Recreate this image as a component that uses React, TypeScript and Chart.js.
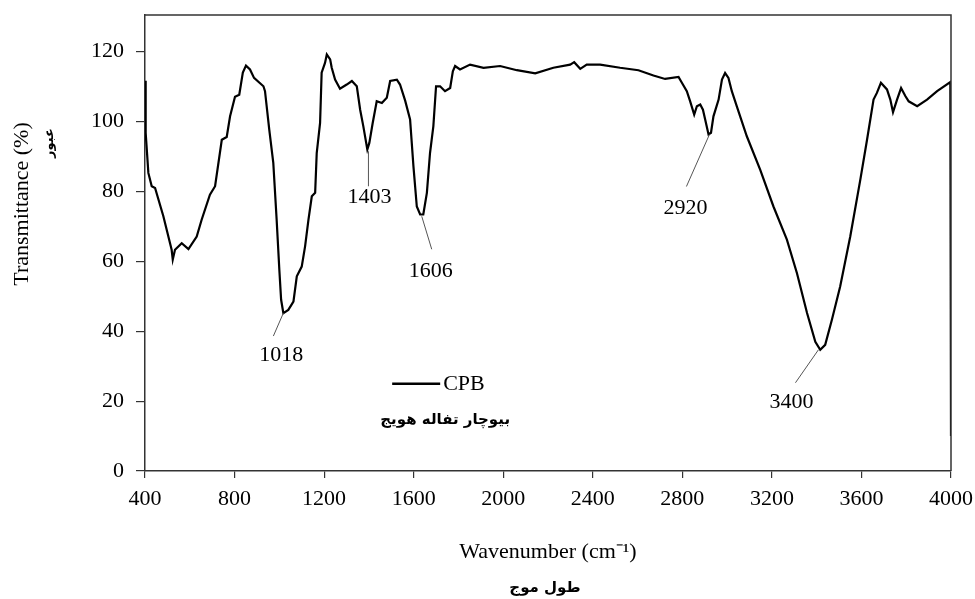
import React, { useEffect, useRef } from "react";
import { Chart, registerables } from "chart.js";

Chart.register(...registerables);

// ---- Data ----
const wavenumber = [
  400, 403, 415, 430, 445, 482, 519, 524, 534, 564, 594, 631, 653, 690, 713, 743, 765, 780, 802, 821,
  837, 851, 869, 887, 929, 936, 955, 973, 988, 1000, 1008, 1018, 1040, 1063, 1078, 1100, 1115, 1130, 1145, 1160,
  1167, 1182, 1189, 1204, 1212, 1227, 1234, 1249, 1271, 1301, 1324, 1346, 1361, 1375, 1393, 1402, 1417, 1435, 1458, 1480,
  1495, 1525, 1539, 1562, 1584, 1599, 1614, 1629, 1643, 1659, 1673, 1688, 1700, 1718, 1740, 1763, 1775, 1785, 1807, 1852,
  1912, 1986, 2061, 2143, 2224, 2299, 2317, 2344, 2373, 2433, 2522, 2604, 2671, 2723, 2783, 2798, 2820, 2835, 2853, 2865,
  2880, 2892, 2902, 2917, 2928, 2939, 2962, 2977, 2991, 3006, 3021, 3043, 3088, 3148, 3207, 3267, 3312, 3357, 3394, 3416,
  3438, 3468, 3505, 3550, 3595, 3625, 3654, 3669, 3687, 3714, 3729, 3741, 3759, 3777, 3796, 3811, 3849, 3893, 3938, 3997,
  4000,
];
const transmittance = [
  111.7, 96.8, 85.3, 81.5, 81.0, 72.9, 63.3, 60.5, 63.3, 65.2, 63.5, 67.1, 71.9, 79.1, 81.5, 94.8, 95.6, 101.5, 107.1, 107.7,
  114.0, 116.0, 114.9, 112.5, 110.1, 108.7, 97.7, 88.2, 71.9, 57.6, 49.0, 45.2, 46.1, 48.5, 55.7, 58.5, 64.3, 71.9, 78.6, 79.6,
  91.0, 99.6, 114.0, 116.8, 119.2, 117.8, 115.4, 112.0, 109.4, 110.6, 111.6, 110.1, 103.4, 98.7, 92.0, 93.9, 99.6, 105.8, 105.3, 106.8,
  111.6, 112.0, 110.6, 106.0, 100.6, 87.2, 75.7, 73.4, 73.4, 79.6, 91.0, 98.7, 110.1, 110.1, 108.7, 109.6, 114.4, 115.9, 114.9, 116.3,
  115.4, 115.9, 114.7, 113.8, 115.4, 116.3, 117.0, 115.1, 116.3, 116.3, 115.4, 114.7, 113.2, 112.2, 112.8, 111.1, 108.7, 105.8, 102.0, 104.4,
  104.9, 103.4, 100.6, 96.3, 96.8, 101.5, 106.3, 112.0, 113.9, 112.5, 108.7, 104.4, 95.8, 86.2, 75.7, 66.2, 56.6, 45.2, 37.0, 34.7,
  36.1, 43.3, 52.8, 67.1, 83.4, 94.8, 106.3, 108.2, 111.1, 109.2, 106.3, 102.7, 106.3, 109.6, 107.3, 105.8, 104.4, 106.3, 108.7, 111.3,
  10.0,
];
const xTickValues = [400, 800, 1200, 1600, 2000, 2400, 2800, 3200, 3600, 4000];
const yTickValues = [0, 20, 40, 60, 80, 100, 120];
const seriesLabel = "CPB";
const seriesLabelFa = "بیوچار تفاله هویج";
const xTitle = "Wavenumber (cm⁻¹)";
const xTitleFa = "طول موج";
const yTitle = "Transmittance (%)";
const yTitleFa = "عبور";

// peak annotations
const peakText = ["1018", "1403", "1606", "2920", "3400"];
const peakX = [1018, 1398, 1636, 2921, 3408];
const peakY = [45.2, 91.5, 72.9, 96.3, 34.7];

// annotation leader offsets (px): line end and text centre relative to the peak point
const annotationOffsets = [
  { lx: -10, ly: 23, tx: -2, ty: 42 },
  { lx: 0, ly: 35, tx: 1, ty: 46 },
  { lx: 10, ly: 33, tx: 9, ty: 55 },
  { lx: -23, ly: 52, tx: -24, ty: 74 },
  { lx: -23, ly: 33, tx: -27, ty: 52 },
];

// legend anchor (in data units)
const legendAt = { x: 1504, y: 25 };

const SERIF = "'Liberation Serif', 'Times New Roman', serif";
const ARABIC = "'DejaVu Sans', sans-serif";

const decorPlugin = {
  id: "decor",
  afterDraw(chart: any) {
    const { ctx, chartArea, scales } = chart;
    const xs = scales.x;
    const ys = scales.y;
    ctx.save();
    // frame (top & right)
    ctx.strokeStyle = "#333";
    ctx.lineWidth = 1.5;
    ctx.beginPath();
    ctx.moveTo(chartArea.left, chartArea.top);
    ctx.lineTo(chartArea.right, chartArea.top);
    ctx.lineTo(chartArea.right, chartArea.bottom);
    ctx.stroke();

    // peak annotations
    ctx.font = `22px ${SERIF}`;
    ctx.textAlign = "center";
    ctx.textBaseline = "middle";
    peakText.forEach((t, i) => {
      const px = xs.getPixelForValue(peakX[i]);
      const py = ys.getPixelForValue(peakY[i]);
      const o = annotationOffsets[i];
      ctx.strokeStyle = "#555";
      ctx.lineWidth = 1;
      ctx.beginPath();
      ctx.moveTo(px, py);
      ctx.lineTo(px + o.lx, py + o.ly);
      ctx.stroke();
      ctx.fillStyle = "#000";
      ctx.fillText(t, px + o.tx, py + o.ty);
    });

    // legend
    const lx = xs.getPixelForValue(legendAt.x);
    const ly = ys.getPixelForValue(legendAt.y);
    ctx.strokeStyle = "#000";
    ctx.lineWidth = 2.5;
    ctx.beginPath();
    ctx.moveTo(lx, ly);
    ctx.lineTo(lx + 48, ly);
    ctx.stroke();
    ctx.fillStyle = "#000";
    ctx.textAlign = "left";
    ctx.font = `22px ${SERIF}`;
    ctx.fillText(seriesLabel, lx + 51, ly + 1);
    ctx.font = `bold 15px ${ARABIC}`;
    ctx.textAlign = "center";
    ctx.fillText(seriesLabelFa, lx + 53, ly + 36);

    // y title
    ctx.save();
    ctx.translate(22, 204);
    ctx.rotate(-Math.PI / 2);
    ctx.font = `22px ${SERIF}`;
    ctx.textAlign = "center";
    ctx.textBaseline = "middle";
    ctx.fillText(yTitle, 0, 0);
    ctx.restore();
    ctx.save();
    ctx.translate(50, 143);
    ctx.rotate(-Math.PI / 2);
    ctx.font = `bold 13px ${ARABIC}`;
    ctx.textAlign = "center";
    ctx.textBaseline = "middle";
    ctx.fillText(yTitleFa, 0, 0);
    ctx.restore();

    // x Arabic title
    ctx.font = `bold 15px ${ARABIC}`;
    ctx.textAlign = "center";
    ctx.textBaseline = "middle";
    ctx.fillText(xTitleFa, (chartArea.left + chartArea.right) / 2 - 3, 588);
    ctx.restore();
  },
};

export default function App() {
  const ref = useRef<HTMLCanvasElement | null>(null);
  useEffect(() => {
    if (!ref.current) return;
    const chart = new Chart(ref.current, {
      type: "line",
      data: {
        datasets: [
          {
            label: seriesLabel,
            data: wavenumber.map((w, i) => ({ x: w, y: transmittance[i] })),
            borderColor: "#000",
            borderWidth: 2.2,
            pointRadius: 0,
            tension: 0,
            fill: false,
          },
        ],
      },
      options: {
        responsive: false,
        animation: false,
        layout: { padding: { left: 0, top: 15, right: 24, bottom: 0 } },
        plugins: { legend: { display: false }, tooltip: { enabled: false } },
        scales: {
          x: {
            type: "linear",
            min: 400,
            max: 4000,
            afterBuildTicks: (s: any) => {
              s.ticks = xTickValues.map((v) => ({ value: v }));
            },
            afterFit: (s: any) => {
              s.height = 128;
              s.paddingRight = 0;
              s.paddingLeft = 0;
            },
            ticks: {
              color: "#000",
              font: { family: SERIF, size: 22 },
              padding: 8,
              maxRotation: 0,
              autoSkip: false,
              callback: (v: any) => String(v),
            },
            grid: { display: true, drawOnChartArea: false, drawTicks: true, tickLength: 7, color: "#333", lineWidth: 1.2 },
            border: { display: true, color: "#333", width: 1.5 },
            title: {
              display: true,
              text: xTitle,
              color: "#000",
              font: { family: SERIF, size: 22 },
              padding: { top: 0, bottom: 34 },
            },
          },
          y: {
            type: "linear",
            min: 0,
            max: 130.5,
            afterBuildTicks: (s: any) => {
              s.ticks = yTickValues.map((v) => ({ value: v }));
            },
            afterFit: (s: any) => {
              s.width = 145;
              s.paddingTop = 0;
              s.paddingBottom = 0;
            },
            ticks: { color: "#000", font: { family: SERIF, size: 22 }, padding: 12, callback: (v: any) => String(v) },
            grid: { display: true, drawOnChartArea: false, drawTicks: true, tickLength: 9, color: "#333", lineWidth: 1.2 },
            border: { display: true, color: "#333", width: 1.5 },
            title: { display: false },
          },
        },
      },
      plugins: [decorPlugin],
    });
    return () => chart.destroy();
  }, []);
  return (
    <div style={{ position: "absolute", left: 0, top: 0, width: 975, height: 599, background: "#fff" }}>
      <canvas ref={ref} width={975} height={599} style={{ display: "block" }} />
    </div>
  );
}
